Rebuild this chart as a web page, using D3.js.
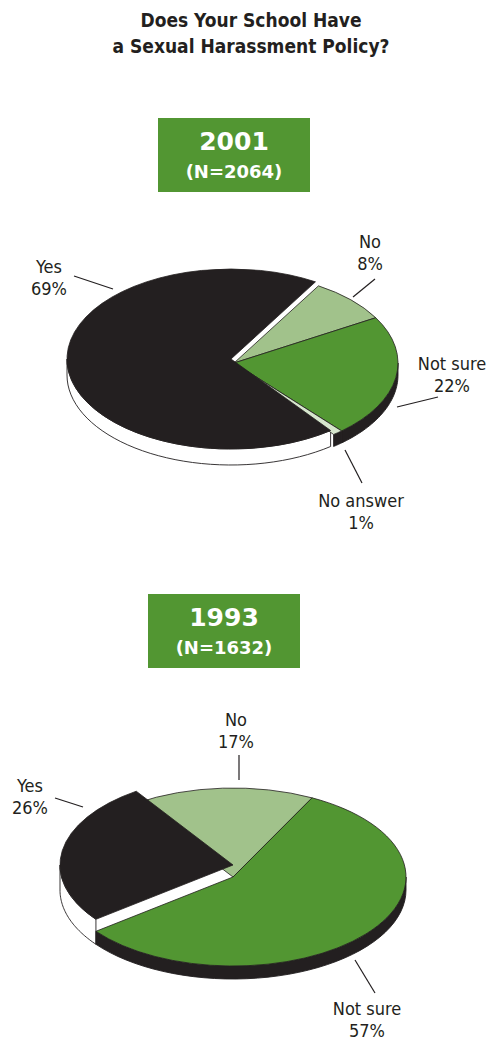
<!DOCTYPE html>
<html lang="en">
<head>
<meta charset="UTF-8">
<title>Does Your School Have a Sexual Harassment Policy?</title>
<script src="https://d3js.org/d3.v7.min.js"></script>
<style>
  body { margin: 0; background: #fff; }
  svg { display: block; }
  .title { font-family: "DejaVu Sans Condensed", "DejaVu Sans", sans-serif; font-weight: bold; font-size: 19px; fill: #231f20; }
  .lbl { font-family: "DejaVu Sans Condensed", "DejaVu Sans", sans-serif; font-size: 18px; fill: #231f20; }
  .box-text { font-family: "DejaVu Sans", sans-serif; font-weight: bold; fill: #fff; }
</style>
</head>
<body>
<svg id="chart" width="491" height="1041"></svg>
<script>
// --- data ---
const titleLines = ["Does Your School Have", "a Sexual Harassment Policy?"];
const years = ["2001", "1993"];
const sampleSizes = [2064, 1632];
const categories2001 = ["No", "Not sure", "No answer", "Yes"];
const values2001 = [8, 22, 1, 69];
const categories1993 = ["No", "Not sure", "Yes"];
const values1993 = [17, 57, 26];

// --- styles ---
const topFill = { "Yes": "#231f20", "No": "#a1c28b", "Not sure": "#529632", "No answer": "#d6e6cd" };
const wallFill = { "Yes": "#ffffff", "No": "#231f20", "Not sure": "#231f20", "No answer": "#231f20" };
const ink = "#231f20";
const boxGreen = "#529632";

// --- layout (positions relative to pie centre) ---
const charts = [
  {
    cats: categories2001, vals: values2001, year: years[0], n: sampleSizes[0],
    cx: 234, cy: 363, rx: 164, ry: 90, depth: 12, start: 31,
    explode: { cat: "Yes", dx: -3, dy: -4 },
    box: { cx: 234, y: 118 },
    labels: {
      "Yes":       { t: [-185, -90], a: [-160, -87], b: [-121, -74] },
      "No":        { t: [136, -115], a: [141, -84], b: [119, -66] },
      "Not sure":  { t: [218, 7],    a: [204, 34],  b: [163, 44] },
      "No answer": { t: [127, 144],  a: [128, 120], b: [111, 87] }
    }
  },
  {
    cats: categories1993, vals: values1993, year: years[1], n: sampleSizes[1],
    cx: 233, cy: 877, rx: 173, ry: 89, depth: 13, start: -34,
    explode: { cat: "Yes", dx: 0, dy: -12 },
    box: { cx: 224, y: 594 },
    labels: {
      "No":       { t: [3, -151],   a: [6, -122],   b: [6, -97] },
      "Yes":      { t: [-203, -85], a: [-178, -79], b: [-150, -70] },
      "Not sure": { t: [134, 138],  a: [142, 116],  b: [122, 83] }
    }
  }
];

const svg = d3.select("#chart");
const rad = Math.PI / 180;

// title
svg.append("g").selectAll("text").data(titleLines).join("text")
  .attr("class", "title")
  .attr("x", 251)
  .attr("y", (d, i) => 27 + i * 26)
  .attr("text-anchor", "middle")
  .text(d => d);

// front part of the rim: angles between 90 and 270 deg (d3 convention, 0 = top)
function frontRanges(a0, a1) {
  const out = [];
  for (let k = -1; k <= 1; k++) {
    const lo = Math.max(a0, Math.PI / 2 + k * 2 * Math.PI);
    const hi = Math.min(a1, 3 * Math.PI / 2 + k * 2 * Math.PI);
    if (hi > lo) out.push([lo, hi]);
  }
  return out;
}

charts.forEach(c => {
  const pie = d3.pie().sort(null).value(d => d.v)
    .startAngle(c.start * rad).endAngle(c.start * rad + 2 * Math.PI);
  const arcs = pie(c.cats.map((cat, i) => ({ cat, v: c.vals[i] })));
  const arc = d3.arc().innerRadius(0).outerRadius(c.rx);
  const k = c.ry / c.rx;
  const sx = a => c.rx * Math.sin(a);
  const sy = a => -c.ry * Math.cos(a);
  const off = d => d.data.cat === c.explode.cat ? [c.explode.dx, c.explode.dy] : [0, 0];
  const isEx = d => d.data.cat === c.explode.cat;

  const g = svg.append("g");
  const line = d3.line();

  // walls: exploded slice first, then the rest
  const wallOrder = arcs.filter(isEx).concat(arcs.filter(d => !isEx(d)));
  wallOrder.forEach(d => {
    const [ox, oy] = off(d);
    const depth = c.depth - oy;
    frontRanges(d.startAngle, d.endAngle).forEach(([lo, hi]) => {
      const steps = d3.range(0, 41).map(i => lo + (hi - lo) * i / 40);
      const topPts = steps.map(a => [c.cx + ox + sx(a), c.cy + oy + sy(a)]);
      const botPts = steps.slice().reverse().map(a => [c.cx + ox + sx(a), c.cy + oy + sy(a) + depth]);
      g.append("path")
        .attr("d", line(topPts.concat(botPts)) + "Z")
        .attr("fill", wallFill[d.data.cat])
        .attr("stroke", ink)
        .attr("stroke-width", 0.9)
        .attr("stroke-linejoin", "round");
    });
  });

  // top faces: exploded slice last
  const topOrder = arcs.filter(d => !isEx(d)).concat(arcs.filter(isEx));
  g.selectAll("path.top").data(topOrder).join("path")
    .attr("class", "top")
    .attr("transform", d => {
      const [ox, oy] = off(d);
      return `translate(${c.cx + ox},${c.cy + oy}) scale(1,${k})`;
    })
    .attr("d", arc)
    .attr("fill", d => topFill[d.data.cat])
    .attr("stroke", ink)
    .attr("stroke-width", 0.8)
    .attr("vector-effect", "non-scaling-stroke")
    .attr("stroke-linejoin", "round");

  // labels
  arcs.forEach(d => {
    const L = c.labels[d.data.cat];
    if (!L) return;
    g.append("line")
      .attr("x1", c.cx + L.a[0]).attr("y1", c.cy + L.a[1])
      .attr("x2", c.cx + L.b[0]).attr("y2", c.cy + L.b[1])
      .attr("stroke", ink).attr("stroke-width", 1.2);
    const t = g.append("text").attr("class", "lbl").attr("text-anchor", "middle");
    [d.data.cat, d.data.v + "%"].forEach((s, i) => {
      t.append("tspan")
        .attr("x", c.cx + L.t[0])
        .attr("y", c.cy + L.t[1] + i * 21.5)
        .text(s);
    });
  });

  // year box
  const bw = 152, bh = 74;
  const box = svg.append("g").attr("transform", `translate(${c.box.cx - bw / 2},${c.box.y})`);
  box.append("rect").attr("width", bw).attr("height", bh).attr("fill", boxGreen);
  box.append("text").attr("class", "box-text")
    .attr("x", bw / 2).attr("y", 32).attr("text-anchor", "middle")
    .attr("font-size", 25).text(c.year);
  box.append("text").attr("class", "box-text")
    .attr("x", bw / 2).attr("y", 60).attr("text-anchor", "middle")
    .attr("font-size", 18).text(`(N=${c.n})`);
});
</script>
</body>
</html>
